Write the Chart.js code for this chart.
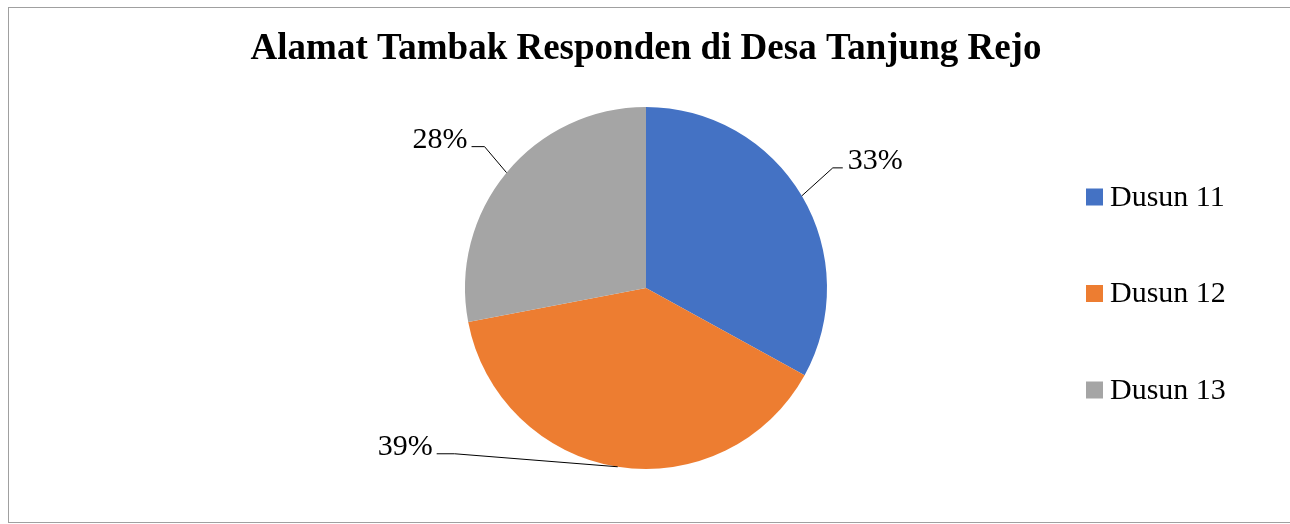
<!DOCTYPE html>
<html>
<head>
<meta charset="utf-8">
<script src="https://cdn.jsdelivr.net/npm/chart.js@4"></script>
<style>
  html, body { margin: 0; padding: 0; background: #fff; overflow: hidden; }
  #wrap { position: relative; width: 1290px; height: 524px; }
  #frame {
    position: absolute; left: 8px; top: 7px; width: 1300px; height: 516px;
    border: 1px solid #a0a0a0; box-sizing: border-box; pointer-events: none;
  }
</style>
</head>
<body>
<div id="wrap">
  <canvas id="pie-chart"></canvas>
  <div id="frame"></div>
</div>
<script>
const pieChart = document.getElementById('pie-chart');

const chartTitle = 'Alamat Tambak Responden di Desa Tanjung Rejo';
const dusunLabels = ['Dusun 11', 'Dusun 12', 'Dusun 13'];
const dusunValues = [33, 39, 28];
const dusunColors = ['#4472C4', '#ED7D31', '#A5A5A5'];

const serif = '"Liberation Serif", "Times New Roman", serif';

// leader line: elbow + end point relative to slice edge midpoint
const leaders = [
  { elbow: [31, -28], end: [41, -28], align: 'left' },
  { elbow: [-163, -13], end: [-181, -13], align: 'right' },
  { elbow: [-22, -26], end: [-35, -26], align: 'right' }
];

const labelPlugin = {
  id: 'pctLabels',
  afterDatasetsDraw(chart) {
    const ctx = chart.ctx;
    const meta = chart.getDatasetMeta(0);
    const data = chart.data.datasets[0].data;
    const total = data.reduce((a, b) => a + b, 0);
    ctx.save();
    ctx.font = '30px ' + serif;
    ctx.fillStyle = '#000';
    ctx.strokeStyle = '#000';
    ctx.lineWidth = 1;
    ctx.textBaseline = 'alphabetic';
    meta.data.forEach((arc, i) => {
      const p = arc.getProps(['startAngle', 'endAngle', 'x', 'y', 'outerRadius'], true);
      const mid = (p.startAngle + p.endAngle) / 2;
      const ax = p.x + Math.cos(mid) * p.outerRadius;
      const ay = p.y + Math.sin(mid) * p.outerRadius;
      const l = leaders[i];
      const ex = ax + l.elbow[0], ey = ay + l.elbow[1];
      const tx = ax + l.end[0], ty = ay + l.end[1];
      ctx.beginPath();
      ctx.moveTo(ax, ay);
      ctx.lineTo(ex, ey);
      ctx.lineTo(tx, ty);
      ctx.stroke();
      const txt = Math.round(data[i] / total * 100) + '%';
      ctx.textAlign = l.align;
      ctx.fillText(txt, l.align === 'left' ? tx + 5 : tx - 4, ty + 1);
    });
    ctx.restore();
  }
};

// legend on the right, drawn from the library's generated legend items
const legendPlugin = {
  id: 'sideLegend',
  afterDraw(chart) {
    const ctx = chart.ctx;
    const items = Chart.overrides.pie.plugins.legend.labels.generateLabels(chart);
    ctx.save();
    ctx.font = '30px ' + serif;
    ctx.textAlign = 'left';
    ctx.textBaseline = 'middle';
    items.forEach((item, i) => {
      const cy = 197 + i * 96.5;
      ctx.fillStyle = item.fillStyle;
      ctx.fillRect(1086, cy - 8.5, 17, 17);
      ctx.fillStyle = '#000';
      ctx.fillText(item.text, 1110, cy + 1);
    });
    ctx.restore();
  }
};

new Chart(pieChart, {
  type: 'pie',
  data: {
    labels: dusunLabels,
    datasets: [{
      data: dusunValues,
      backgroundColor: dusunColors,
      borderWidth: 0,
      hoverOffset: 0
    }]
  },
  options: {
    responsive: true,
    maintainAspectRatio: false,
    animation: false,
    layout: { padding: { left: 2, right: 0, top: 0, bottom: 55 } },
    plugins: {
      legend: { display: false },
      tooltip: { enabled: false },
      title: {
        display: true,
        text: chartTitle,
        color: '#000',
        font: { family: serif, size: 37, weight: 'bold' },
        padding: { top: 27, bottom: 35.6 }
      }
    }
  },
  plugins: [labelPlugin, legendPlugin]
});
</script>
</body>
</html>
